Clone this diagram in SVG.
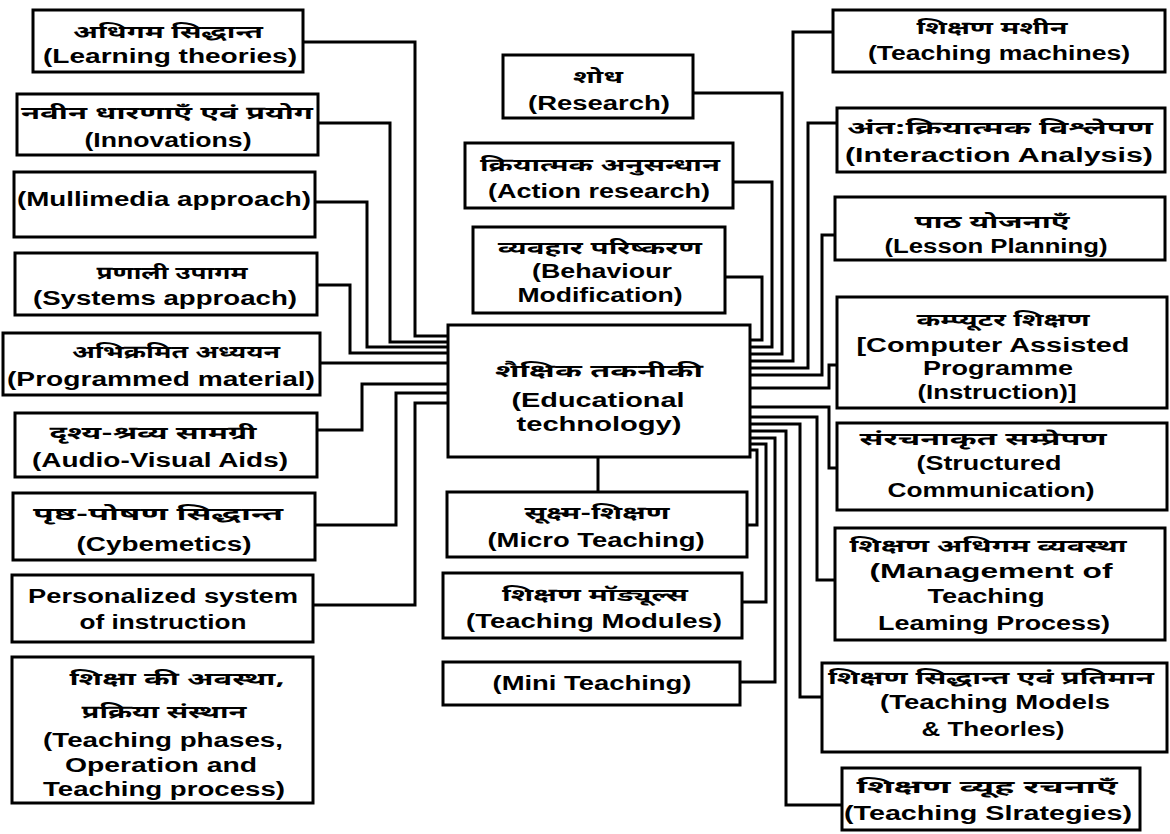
<svg xmlns="http://www.w3.org/2000/svg" width="1170" height="834" viewBox="0 0 1170 834">
<style>
.box{fill:#fff;stroke:#000;stroke-width:3}
.conn path{fill:none;stroke:#000;stroke-width:3}
.en{font-family:"Liberation Sans",Arial,sans-serif;font-weight:bold;font-size:20px;text-anchor:middle;fill:#000}
.hi{font-family:"Noto Sans Devanagari","Noto Sans","Lohit Devanagari",sans-serif;font-weight:bold;font-size:18px;text-anchor:middle;fill:#000}
</style>
<rect width="1170" height="834" fill="#fff"/>
<g id="connectors" class="conn">
<path d="M303,42 H415 V336 H448"/>
<path d="M318,123 H390 V342 H448"/>
<path d="M315,202 H367 V347 H448"/>
<path d="M317,285 H350 V353 H448"/>
<path d="M320,363 H448"/>
<path d="M317,430 H362 V384 H448"/>
<path d="M315,525 H396 V393 H448"/>
<path d="M313,605 H415 V403 H448"/>
<path d="M598,457 V492"/>
<path d="M693,93 H782 V354 H750"/>
<path d="M733,182 H772 V347 H750"/>
<path d="M725,277 H762 V340 H750"/>
<path d="M833,32 H793 V361 H750"/>
<path d="M837,123 H808 V368 H750"/>
<path d="M835,235 H822 V375 H750"/>
<path d="M750,388 H829 V365 H837"/>
<path d="M750,407 H829 V468 H837"/>
<path d="M835,580 H817 V417 H750"/>
<path d="M822,697 H800 V424 H750"/>
<path d="M842,805 H786 V431 H750"/>
<path d="M740,682 H775 V438 H750"/>
<path d="M742,602 H766 V444 H750"/>
<path d="M747,525 H757 V450 H750"/>
</g>
<g id="learning-theories"><rect class="box" x="33" y="10" width="270" height="62"/>
<text class="hi" x="168" y="38" textLength="190" lengthAdjust="spacingAndGlyphs">अधिगम सिद्धान्त</text>
<text class="en" x="170" y="63" textLength="254" lengthAdjust="spacingAndGlyphs">(Learning theories)</text></g>
<g id="innovations"><rect class="box" x="17" y="94" width="301" height="61"/>
<text class="hi" x="167" y="119" textLength="292" lengthAdjust="spacingAndGlyphs">नवीन धारणाएँ एवं प्रयोग</text>
<text class="en" x="168" y="147" textLength="167" lengthAdjust="spacingAndGlyphs">(Innovations)</text></g>
<g id="multimedia"><rect class="box" x="14" y="172" width="301" height="65"/>
<text class="en" x="164" y="206" textLength="294" lengthAdjust="spacingAndGlyphs">(Mullimedia approach)</text></g>
<g id="systems"><rect class="box" x="15" y="253" width="302" height="62"/>
<text class="hi" x="172" y="279" textLength="151" lengthAdjust="spacingAndGlyphs">प्रणाली उपागम</text>
<text class="en" x="165" y="305" textLength="264" lengthAdjust="spacingAndGlyphs">(Systems approach)</text></g>
<g id="programmed"><rect class="box" x="3" y="333" width="317" height="62"/>
<text class="hi" x="176" y="358" textLength="208" lengthAdjust="spacingAndGlyphs">अभिक्रमित अध्ययन</text>
<text class="en" x="161" y="386" textLength="308" lengthAdjust="spacingAndGlyphs">(Programmed material)</text></g>
<g id="audio-visual"><rect class="box" x="15" y="413" width="302" height="64"/>
<text class="hi" x="153" y="439" textLength="207" lengthAdjust="spacingAndGlyphs">दृश्य-श्रव्य सामग्री</text>
<text class="en" x="160" y="467" textLength="256" lengthAdjust="spacingAndGlyphs">(Audio-Visual Aids)</text></g>
<g id="cybernetics"><rect class="box" x="13" y="493" width="302" height="67"/>
<text class="hi" x="158" y="520" textLength="250" lengthAdjust="spacingAndGlyphs">पृष्ठ-पोषण सिद्धान्त</text>
<text class="en" x="164" y="551" textLength="175" lengthAdjust="spacingAndGlyphs">(Cybemetics)</text></g>
<g id="personalized"><rect class="box" x="12" y="575" width="301" height="67"/>
<text class="en" x="163" y="603" textLength="270" lengthAdjust="spacingAndGlyphs">Personalized system</text>
<text class="en" x="163" y="629" textLength="167" lengthAdjust="spacingAndGlyphs">of instruction</text></g>
<g id="teaching-phases"><rect class="box" x="12" y="657" width="301" height="146"/>
<text class="hi" x="177" y="685" textLength="215" lengthAdjust="spacingAndGlyphs">शिक्षा की अवस्था,</text>
<text class="hi" x="164" y="718" textLength="165" lengthAdjust="spacingAndGlyphs">प्रक्रिया संस्थान</text>
<text class="en" x="163" y="747" textLength="240" lengthAdjust="spacingAndGlyphs">(Teaching phases,</text>
<text class="en" x="161" y="772" textLength="192" lengthAdjust="spacingAndGlyphs">Operation and</text>
<text class="en" x="164" y="796" textLength="242" lengthAdjust="spacingAndGlyphs">Teaching process)</text></g>
<g id="research"><rect class="box" x="503" y="55" width="190" height="63"/>
<text class="hi" x="598" y="83" textLength="50" lengthAdjust="spacingAndGlyphs">शोध</text>
<text class="en" x="599" y="110" textLength="142" lengthAdjust="spacingAndGlyphs">(Research)</text></g>
<g id="action-research"><rect class="box" x="465" y="143" width="268" height="65"/>
<text class="hi" x="600" y="171" textLength="240" lengthAdjust="spacingAndGlyphs">क्रियात्मक अनुसन्धान</text>
<text class="en" x="599" y="198" textLength="222" lengthAdjust="spacingAndGlyphs">(Action research)</text></g>
<g id="behaviour"><rect class="box" x="473" y="227" width="252" height="86"/>
<text class="hi" x="600" y="254" textLength="204" lengthAdjust="spacingAndGlyphs">व्यवहार परिष्करण</text>
<text class="en" x="602" y="278" textLength="140" lengthAdjust="spacingAndGlyphs">(Behaviour</text>
<text class="en" x="600" y="302" textLength="165" lengthAdjust="spacingAndGlyphs">Modification)</text></g>
<g id="educational-technology"><rect class="box" x="448" y="325" width="302" height="132"/>
<text class="hi" x="599" y="377" textLength="208" lengthAdjust="spacingAndGlyphs">शैक्षिक तकनीकी</text>
<text class="en" x="598" y="407" textLength="173" lengthAdjust="spacingAndGlyphs">(Educational</text>
<text class="en" x="599" y="431" textLength="165" lengthAdjust="spacingAndGlyphs">technology)</text></g>
<g id="micro-teaching"><rect class="box" x="447" y="492" width="300" height="65"/>
<text class="hi" x="597" y="519" textLength="145" lengthAdjust="spacingAndGlyphs">सूक्ष्म-शिक्षण</text>
<text class="en" x="596" y="547" textLength="217" lengthAdjust="spacingAndGlyphs">(Micro Teaching)</text></g>
<g id="teaching-modules"><rect class="box" x="443" y="573" width="299" height="65"/>
<text class="hi" x="595" y="601" textLength="186" lengthAdjust="spacingAndGlyphs">शिक्षण मॉड्यूल्स</text>
<text class="en" x="594" y="628" textLength="256" lengthAdjust="spacingAndGlyphs">(Teaching Modules)</text></g>
<g id="mini-teaching"><rect class="box" x="443" y="662" width="297" height="43"/>
<text class="en" x="592" y="690" textLength="199" lengthAdjust="spacingAndGlyphs">(Mini Teaching)</text></g>
<g id="teaching-machines"><rect class="box" x="833" y="10" width="332" height="62"/>
<text class="hi" x="992" y="34" textLength="151" lengthAdjust="spacingAndGlyphs">शिक्षण मशीन</text>
<text class="en" x="999" y="60" textLength="262" lengthAdjust="spacingAndGlyphs">(Teaching machines)</text></g>
<g id="interaction-analysis"><rect class="box" x="837" y="108" width="328" height="64"/>
<text class="hi" x="1000" y="134" textLength="306" lengthAdjust="spacingAndGlyphs">अंत:क्रियात्मक विश्लेपण</text>
<text class="en" x="999" y="162" textLength="308" lengthAdjust="spacingAndGlyphs">(Interaction Analysis)</text></g>
<g id="lesson-planning"><rect class="box" x="835" y="197" width="330" height="63"/>
<text class="hi" x="992" y="228" textLength="155" lengthAdjust="spacingAndGlyphs">पाठ योजनाएँ</text>
<text class="en" x="996" y="253" textLength="223" lengthAdjust="spacingAndGlyphs">(Lesson Planning)</text></g>
<g id="computer-assisted"><rect class="box" x="837" y="297" width="330" height="111"/>
<text class="hi" x="1003" y="326" textLength="173" lengthAdjust="spacingAndGlyphs">कम्प्यूटर शिक्षण</text>
<text class="en" x="993" y="352" textLength="273" lengthAdjust="spacingAndGlyphs">[Computer Assisted</text>
<text class="en" x="998" y="375" textLength="150" lengthAdjust="spacingAndGlyphs">Programme</text>
<text class="en" x="997" y="399" textLength="159" lengthAdjust="spacingAndGlyphs">(Instruction)]</text></g>
<g id="structured-communication"><rect class="box" x="837" y="423" width="330" height="87"/>
<text class="hi" x="983" y="445" textLength="247" lengthAdjust="spacingAndGlyphs">संरचनाकृत सम्प्रेपण</text>
<text class="en" x="989" y="470" textLength="145" lengthAdjust="spacingAndGlyphs">(Structured</text>
<text class="en" x="991" y="497" textLength="207" lengthAdjust="spacingAndGlyphs">Communication)</text></g>
<g id="management"><rect class="box" x="835" y="528" width="330" height="112"/>
<text class="hi" x="988" y="552" textLength="277" lengthAdjust="spacingAndGlyphs">शिक्षण अधिगम व्यवस्था</text>
<text class="en" x="991" y="578" textLength="243" lengthAdjust="spacingAndGlyphs">(Management of</text>
<text class="en" x="986" y="603" textLength="117" lengthAdjust="spacingAndGlyphs">Teaching</text>
<text class="en" x="994" y="630" textLength="232" lengthAdjust="spacingAndGlyphs">Leaming Process)</text></g>
<g id="teaching-models"><rect class="box" x="822" y="663" width="345" height="89"/>
<text class="hi" x="991" y="684" textLength="326" lengthAdjust="spacingAndGlyphs">शिक्षण सिद्धान्त एवं प्रतिमान</text>
<text class="en" x="995" y="709" textLength="230" lengthAdjust="spacingAndGlyphs">(Teaching Models</text>
<text class="en" x="993" y="736" textLength="143" lengthAdjust="spacingAndGlyphs">&amp; Theorles)</text></g>
<g id="teaching-strategies"><rect class="box" x="842" y="768" width="298" height="62"/>
<text class="hi" x="987" y="793" textLength="261" lengthAdjust="spacingAndGlyphs">शिक्षण व्यूह रचनाएँ</text>
<text class="en" x="988" y="820" textLength="288" lengthAdjust="spacingAndGlyphs">(Teaching Slrategies)</text></g>
</svg>
